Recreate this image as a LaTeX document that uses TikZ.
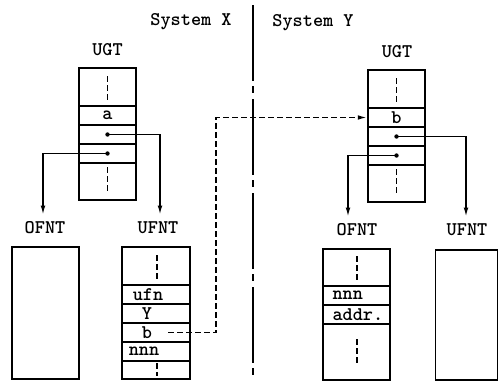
\documentclass[tikz,border=0pt]{standalone}
\usepackage{fontspec}
\usetikzlibrary{arrows.meta}

\tikzset{every picture/.style={line width=0.75pt}}
\tikzset{
  cell/.style={draw, line width=1.25pt, inner sep=0pt, minimum width=#1*0.75pt},
  rowh/.style={minimum height=#1*0.75pt},
  txt/.style={inner sep=0pt, font=\fontsize{14.5}{16}\ttfamily\bfseries},
  head/.style={inner sep=0pt, font=\fontsize{14.5}{16}\ttfamily\bfseries},
  ptr/.style={line width=1.2pt, -{Latex[length=7pt,width=3.5pt]}},
  link/.style={line width=1.2pt, dash pattern=on 4.5pt off 2.25pt, -{Latex[length=7pt,width=3.5pt]}},
  gap/.style={line width=1.4pt, dash pattern=on 4.5pt off 2.25pt},
  divider/.style={line width=1.2pt, dash pattern=on 57pt off 3.75pt on 5.25pt off 4.5pt}
}

\begin{document}
\begin{tikzpicture}[x=0.75pt,y=0.75pt,yscale=-1,xscale=1]
	\useasboundingbox (0,0) rectangle (499,383);
	
	%Divider
	\draw[divider] (253,5) -- (253,378) ;
	
	% Text Node
	\node[txt] (sysx) at (191,22) {System X};
	% Text Node
	\node[txt] (sysy) at (313,23) {System Y};
	
	%System X, UGT
	\node[head] (ugtx) at (107.5,50) {UGT};
	\node[cell=57, rowh=38] (lu0) at (107.5,87) {};
	\node[cell=57, rowh=19, txt] (lua) at (107.5,115.5) {a};
	\node[cell=57, rowh=19] (lup1) at (107.5,134.5) {};
	\node[cell=57, rowh=19] (lup2) at (107.5,153.5) {};
	\node[cell=57, rowh=37] (lu4) at (107.5,181.5) {};
	\draw[gap] (107.5,76) -- (107.5,100) ;
	\draw[gap] (107.5,167) -- (107.5,191) ;
	\fill (lup1.center) circle (2.2) ;
	\fill (lup2.center) circle (2.2) ;
	
	%System X, OFNT and UFNT
	\node[head] (ofntx) at (45,228) {OFNT};
	\node[head] (ufntx) at (158,228) {UFNT};
	\coordinate (ofntx-in) at (43,215);
	\coordinate (ufntx-in) at (160,215);
	\node[cell=67, rowh=132] (lo) at (45.5,313) {};
	\node[cell=68, rowh=38] (lf0) at (156,266) {};
	\node[cell=68, rowh=19] (lfufn) at (156,294.5) {};
	\node[cell=68, rowh=19] (lfy) at (156,313.5) {};
	\node[cell=68, rowh=19] (lfb) at (156,332.5) {};
	\node[cell=68, rowh=19] (lfn) at (156,351.5) {};
	\node[cell=68, rowh=18] (lf5) at (156,370) {};
	\node[txt] (t-ufn) at (148,294.5) {ufn};
	\node[txt] (t-y) at (147,313.5) {Y};
	\node[txt] (t-b) at (147,332.5) {b};
	\node[txt] (t-nnnx) at (144,351.5) {nnn};
	\draw[gap] (157,255) -- (157,279) ;
	\draw[gap] (157,363) -- (157,376) ;
	
	%Pointers, System X
	\draw[ptr] (lup1.center) -| (ufntx-in) ;
	\draw[ptr] (lup2.center) -| (ofntx-in) ;
	
	%System Y, UGT
	\node[head] (ugty) at (397,52) {UGT};
	\node[cell=57, rowh=38] (ru0) at (396.5,89) {};
	\node[cell=57, rowh=19, txt] (rub) at (396.5,117.5) {b};
	\node[cell=57, rowh=19] (rup1) at (396.5,136.5) {};
	\node[cell=57, rowh=19] (rup2) at (396.5,155.5) {};
	\node[cell=57, rowh=37] (ru4) at (396.5,183.5) {};
	\draw[gap] (396.5,78) -- (396.5,102) ;
	\draw[gap] (396.5,169) -- (396.5,193) ;
	\fill (rup1.center) circle (2.2) ;
	\fill (rup2.center) circle (2.2) ;
	
	%System Y, OFNT and UFNT
	\node[head] (ofnty) at (357,230) {OFNT};
	\node[head] (ufnty) at (467,230) {UFNT};
	\coordinate (ofnty-in) at (348,217);
	\coordinate (ufnty-in) at (466,217);
	\node[cell=67, rowh=37] (ro0) at (356.5,267.5) {};
	\node[cell=67, rowh=19] (ron) at (356.5,295.5) {};
	\node[cell=67, rowh=19] (roa) at (356.5,314.5) {};
	\node[cell=67, rowh=56] (ro3) at (356.5,352) {};
	\node[txt, anchor=west] (t-nnny) at (332,295.5) {nnn};
	\node[txt, anchor=west] (t-addr) at (332,314.5) {addr.};
	\draw[gap] (357,256) -- (357,280) ;
	\draw[gap] (357,339) -- (357,363) ;
	\node[cell=62, rowh=130] (ru) at (466.5,315) {};
	
	%Pointers, System Y
	\draw[ptr] (rup1.center) -| (ufnty-in) ;
	\draw[ptr] (rup2.center) -| (ofnty-in) ;
	
	%Link from UFNT of System X to UGT of System Y
	\coordinate (bout) at (168,332.5);
	\coordinate (bup) at (216,117.5);
	\draw[link] (bout) -| (bup) -- (rub.west) ;
	
\end{tikzpicture}
\end{document}
